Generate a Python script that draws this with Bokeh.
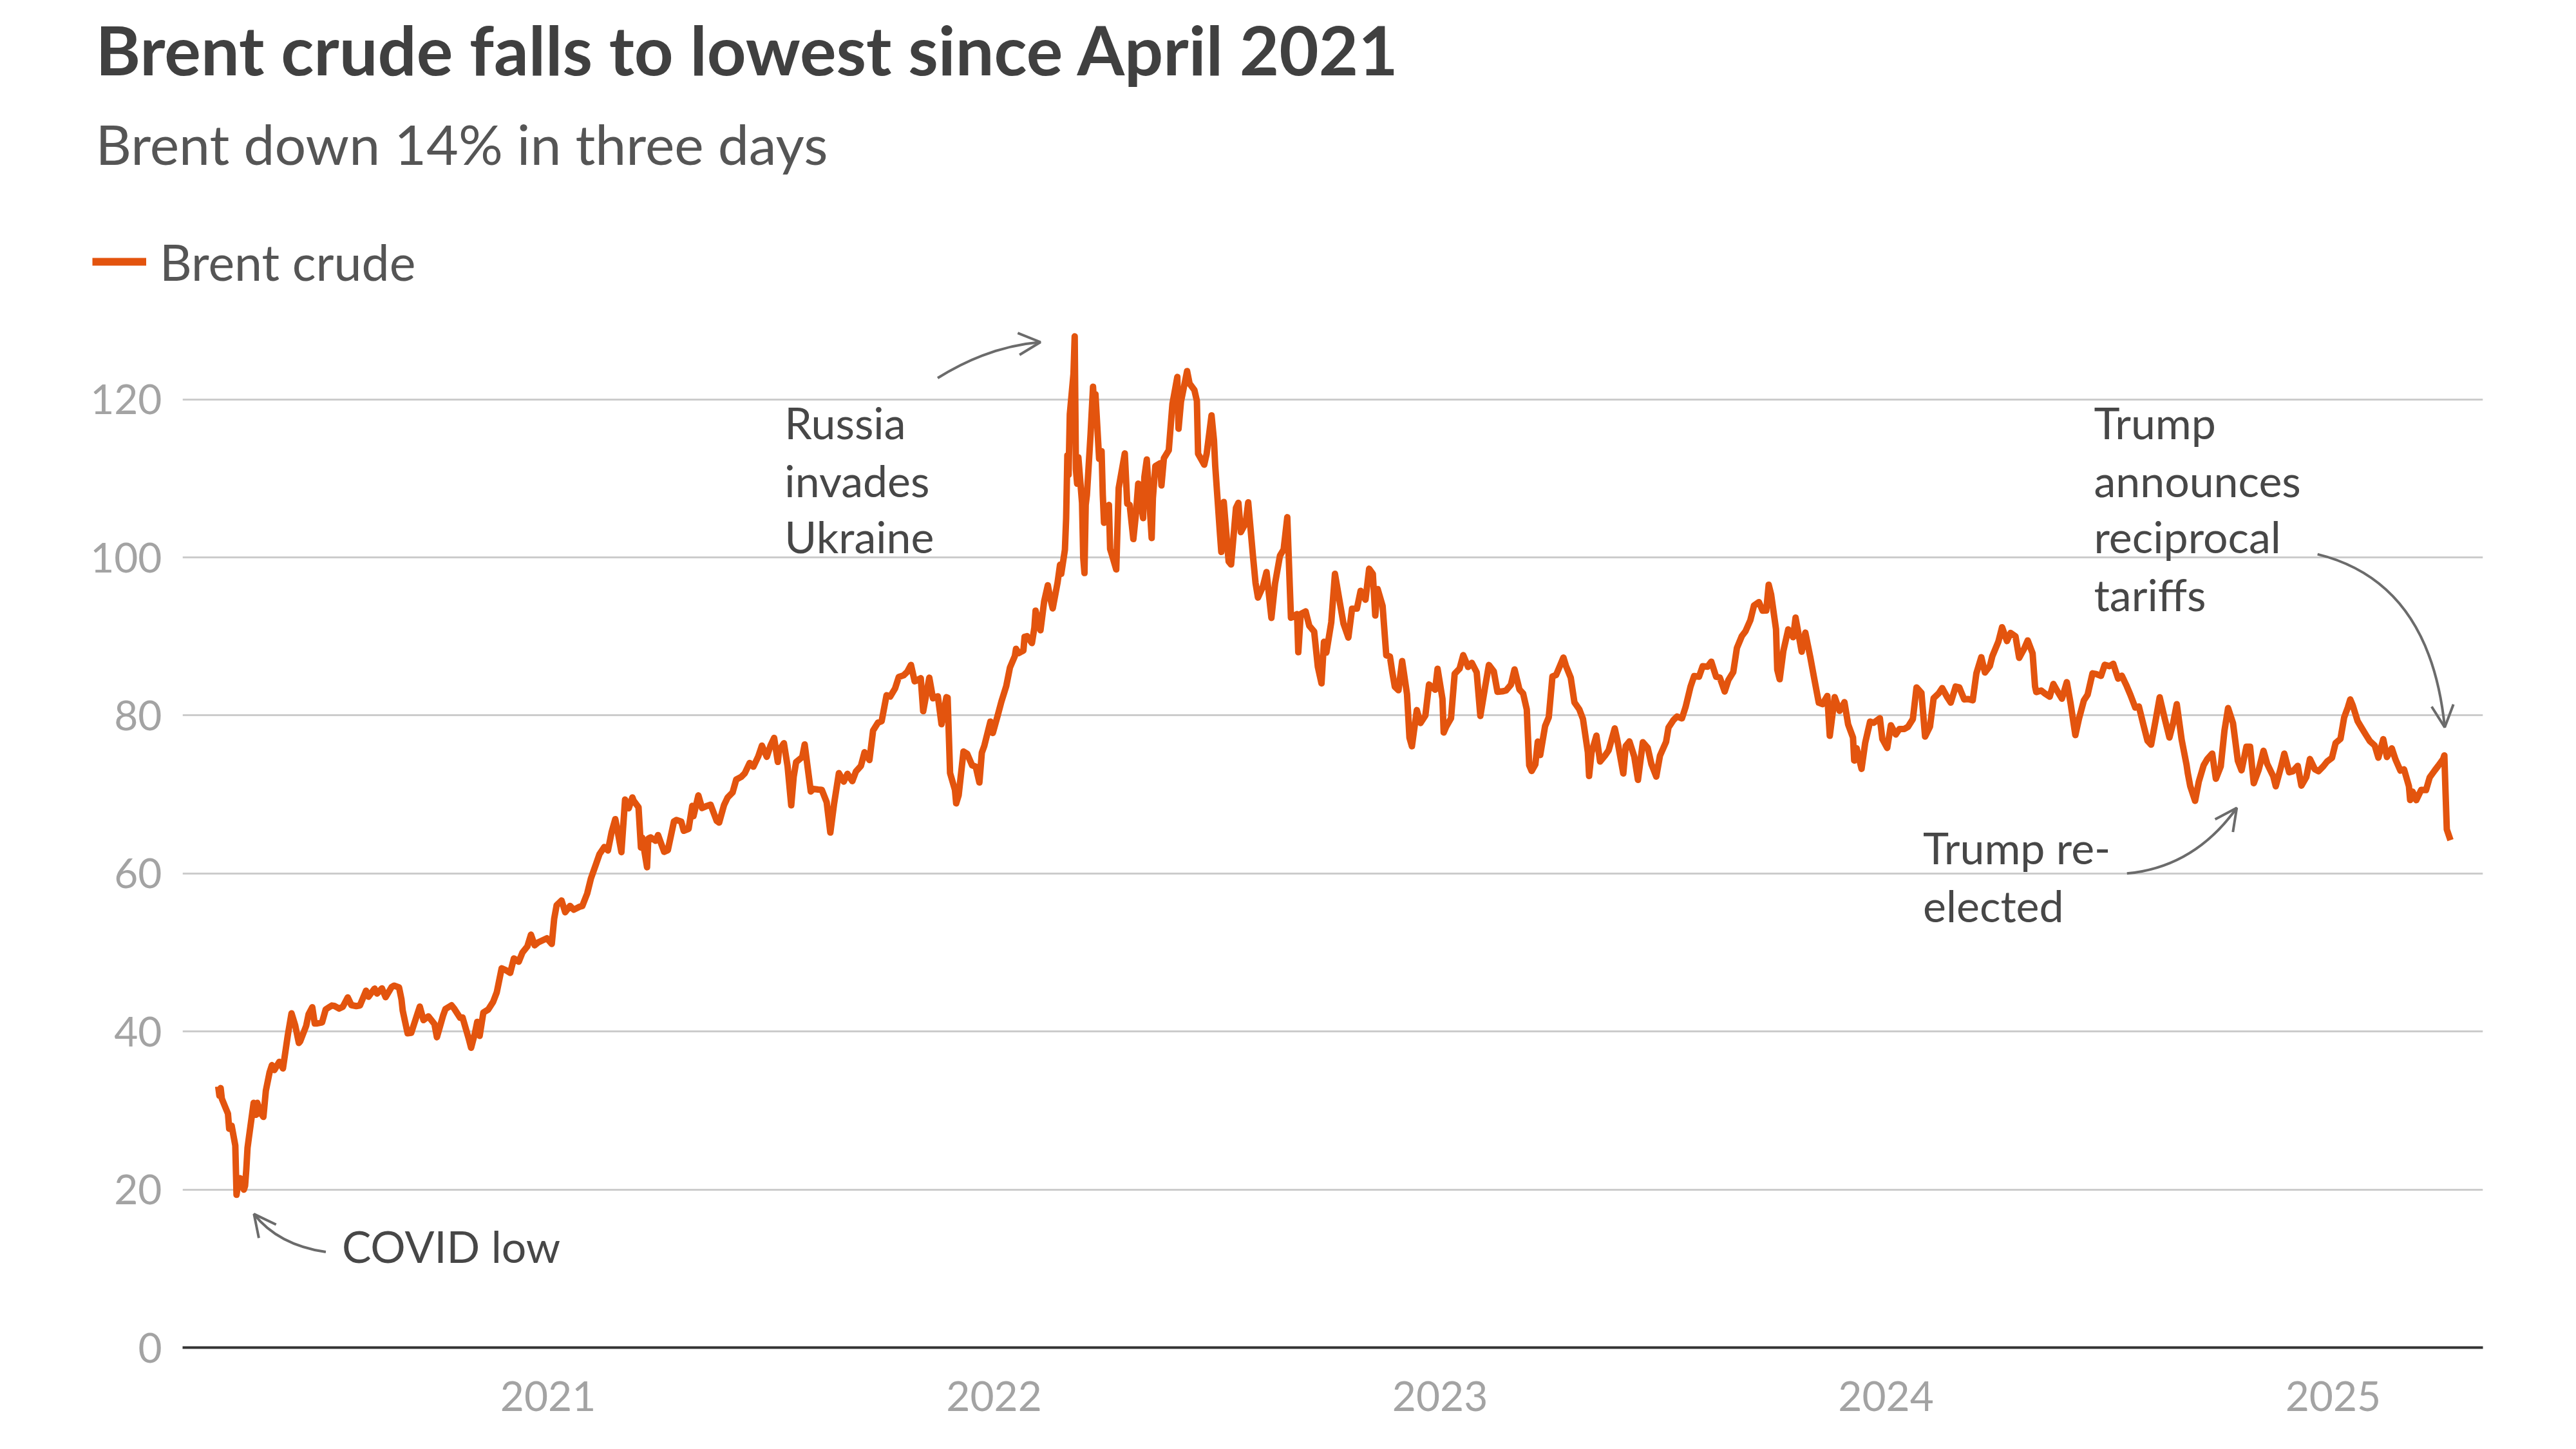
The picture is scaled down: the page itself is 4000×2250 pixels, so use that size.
import pandas as pd
from bokeh.plotting import figure
from bokeh.models import (ColumnDataSource, Range1d, FixedTicker, DatetimeTickFormatter,
                          Label, Legend, LegendItem, Arrow, OpenHead)
from bokeh.core.properties import value
from bokeh.embed import file_html
from bokeh.resources import INLINE

# Brent crude, $/bbl
dates_2020 = ["04-06", "04-07", "04-08", "04-09", "04-14", "04-15", "04-17", "04-20", "04-21", "04-22",
              "04-24", "04-27", "04-28", "04-29", "04-30", "05-01", "05-05", "05-07", "05-08", "05-11",
              "05-13", "05-15", "05-18", "05-20", "05-22", "05-26", "05-29", "06-02", "06-05", "06-08",
              "06-11", "06-12", "06-17", "06-19", "06-22", "06-24", "06-26", "06-30", "07-03", "07-08",
              "07-10", "07-14", "07-17", "07-21", "07-24", "07-28", "07-31", "08-05", "08-07", "08-12",
              "08-14", "08-18", "08-21", "08-26", "08-28", "09-01", "09-03", "09-04", "09-08", "09-11",
              "09-16", "09-18", "09-21", "09-25", "09-30", "10-02", "10-07", "10-09", "10-14", "10-16",
              "10-21", "10-23", "10-28", "10-30", "11-02", "11-04", "11-06", "11-09", "11-13", "11-17",
              "11-20", "11-24", "11-27", "12-01", "12-04", "12-08", "12-11", "12-15", "12-18", "12-21",
              "12-24", "12-31"]
brent_2020 = [33.05, 31.87, 32.84, 31.48, 29.60, 27.69, 28.08, 25.57, 19.33, 20.37,
              21.44, 19.99, 20.46, 22.54, 25.27, 26.44, 30.97, 29.46, 30.97, 29.63,
              29.19, 32.50, 34.81, 35.75, 35.13, 36.17, 35.33, 39.57, 42.30, 40.80,
              38.55, 38.73, 40.71, 42.19, 43.08, 41.01, 41.02, 41.15, 42.80, 43.29,
              43.24, 42.90, 43.14, 44.32, 43.34, 43.22, 43.30, 45.17, 44.40, 45.43,
              44.80, 45.46, 44.35, 45.64, 45.81, 45.58, 44.07, 42.66, 39.78, 39.83,
              42.22, 43.15, 41.44, 41.92, 40.95, 39.27, 41.99, 42.85, 43.32, 42.93,
              41.73, 41.77, 39.12, 37.94, 39.71, 41.23, 39.45, 42.40, 42.78, 43.75,
              44.96, 48.00, 47.80, 47.42, 49.25, 48.84, 50.00, 50.76, 52.26, 50.91,
              51.29, 51.80]

dates_2021 = ["01-04", "01-06", "01-08", "01-12", "01-15", "01-19", "01-22", "01-27", "01-29", "02-02",
              "02-05", "02-09", "02-12", "02-16", "02-19", "02-22", "02-25", "02-26", "03-02", "03-05",
              "03-08", "03-11", "03-12", "03-16", "03-18", "03-19", "03-23", "03-24", "03-26", "03-30",
              "04-01", "04-06", "04-09", "04-14", "04-16", "04-20", "04-22", "04-26", "04-29", "04-30",
              "05-04", "05-07", "05-11", "05-14", "05-19", "05-21", "05-25", "05-28", "06-01", "06-04",
              "06-08", "06-11", "06-15", "06-18", "06-22", "06-25", "06-29", "07-02", "07-05", "07-08",
              "07-09", "07-13", "07-16", "07-19", "07-21", "07-23", "07-28", "07-30", "08-04", "08-06",
              "08-10", "08-13", "08-17", "08-20", "08-23", "08-27", "08-31", "09-03", "09-07", "09-10",
              "09-14", "09-17", "09-21", "09-24", "09-28", "10-01", "10-05", "10-08", "10-12", "10-15",
              "10-19", "10-22", "10-25", "10-28", "10-29", "11-02", "11-04", "11-09", "11-12", "11-16",
              "11-19", "11-23", "11-24", "11-26", "11-30", "12-01", "12-03", "12-07", "12-10", "12-14",
              "12-17", "12-20", "12-22", "12-24", "12-29", "12-31"]
brent_2021 = [51.09, 54.30, 55.99, 56.58, 55.10, 55.90, 55.41, 55.81, 55.88, 57.46,
              59.34, 61.09, 62.43, 63.35, 62.91, 65.24, 66.88, 66.13, 62.70, 69.36,
              68.24, 69.63, 69.22, 68.39, 63.28, 64.53, 60.79, 64.41, 64.57, 64.14,
              64.86, 62.74, 62.95, 66.58, 66.77, 66.57, 65.40, 65.65, 68.56, 67.25,
              69.88, 68.28, 68.55, 68.71, 66.66, 66.44, 68.65, 69.63, 70.25, 71.89,
              72.22, 72.69, 73.99, 73.51, 74.81, 76.18, 74.76, 76.17, 77.16, 74.12,
              75.55, 76.49, 73.59, 68.62, 72.23, 74.10, 74.74, 76.33, 70.38, 70.70,
              70.63, 70.59, 69.03, 65.18, 68.75, 72.70, 71.63, 72.61, 71.69, 72.92,
              73.60, 75.34, 74.36, 78.09, 79.09, 79.28, 82.56, 82.39, 83.42, 84.86,
              85.08, 85.53, 86.40, 84.32, 84.38, 84.72, 80.54, 84.78, 82.17, 82.43,
              78.89, 82.31, 82.25, 72.72, 70.57, 68.87, 69.88, 75.44, 75.15, 73.70,
              73.52, 71.52, 75.29, 76.14, 79.23, 77.78]

dates_2022 = ["01-04", "01-07", "01-11", "01-14", "01-18", "01-19", "01-21", "01-25", "01-26", "01-28",
              "02-01", "02-03", "02-04", "02-08", "02-11", "02-14", "02-16", "02-18", "02-22", "02-24",
              "02-25", "02-28", "03-01", "03-02", "03-03", "03-04", "03-07", "03-08", "03-09", "03-10",
              "03-11", "03-14", "03-15", "03-16", "03-17", "03-18", "03-21", "03-23", "03-24", "03-25",
              "03-28", "03-30", "03-31", "04-01", "04-05", "04-06", "04-07", "04-11", "04-13", "04-18",
              "04-20", "04-22", "04-25", "04-27", "04-29", "05-03", "05-04", "05-06", "05-10", "05-11",
              "05-13", "05-17", "05-18", "05-20", "05-24", "05-27", "05-31", "06-01", "06-03", "06-08",
              "06-10", "06-14", "06-16", "06-17", "06-22", "06-24", "06-28", "06-30", "07-01", "07-05",
              "07-06", "07-08", "07-12", "07-14", "07-18", "07-20", "07-22", "07-26", "07-28", "08-01",
              "08-03", "08-05", "08-09", "08-12", "08-16", "08-19", "08-23", "08-26", "08-29", "08-31",
              "09-01", "09-06", "09-07", "09-09", "09-13", "09-16", "09-20", "09-23", "09-26", "09-28",
              "09-30", "10-04", "10-07", "10-11", "10-14", "10-18", "10-21", "10-25", "10-28", "11-01",
              "11-04", "11-07", "11-09", "11-11", "11-15", "11-18", "11-21", "11-23", "11-25", "11-28",
              "12-01", "12-05", "12-07", "12-09", "12-13", "12-16", "12-20", "12-23", "12-28", "12-30"]
brent_2022 = [80.00, 81.75, 83.72, 86.06, 87.51, 88.44, 87.89, 88.20, 89.96, 90.03,
              89.16, 91.11, 93.27, 90.78, 94.44, 96.48, 94.81, 93.54, 96.84, 99.08,
              97.93, 100.99, 104.97, 112.93, 110.46, 118.11, 123.21, 127.98, 111.14, 109.33,
              112.67, 106.90, 99.91, 98.02, 106.64, 107.93, 115.62, 121.60, 119.03, 120.65,
              112.48, 113.45, 107.91, 104.39, 106.64, 101.07, 100.58, 98.48, 108.78, 113.16,
              106.80, 106.65, 102.32, 105.32, 109.34, 104.97, 110.14, 112.39, 102.46, 107.51,
              111.55, 111.93, 109.11, 112.55, 113.56, 119.43, 122.84, 116.29, 119.72, 123.58,
              122.01, 121.17, 119.81, 113.12, 111.74, 113.12, 117.98, 114.81, 111.63, 102.77,
              100.69, 107.02, 99.49, 99.10, 106.27, 106.92, 103.20, 104.40, 106.97, 100.03,
              96.78, 94.92, 96.31, 98.15, 92.34, 96.72, 100.22, 100.99, 105.09, 96.49,
              92.36, 92.83, 88.00, 92.84, 93.17, 91.35, 90.62, 86.15, 84.06, 89.32,
              87.96, 91.80, 97.92, 94.29, 91.63, 89.86, 93.50, 93.52, 95.77, 94.65,
              98.57, 97.92, 92.65, 95.99, 93.86, 87.62, 87.45, 85.41, 83.63, 83.19,
              86.88, 82.68, 77.17, 76.10, 80.68, 79.04, 79.99, 83.92, 83.26, 85.91]

dates_2023 = ["01-03", "01-04", "01-06", "01-10", "01-13", "01-17", "01-20", "01-24", "01-27", "01-31",
              "02-03", "02-07", "02-10", "02-14", "02-17", "02-21", "02-24", "02-28", "03-03", "03-07",
              "03-10", "03-13", "03-15", "03-17", "03-20", "03-22", "03-24", "03-28", "03-31", "04-03",
              "04-06", "04-12", "04-14", "04-18", "04-21", "04-25", "04-28", "05-02", "05-03", "05-05",
              "05-09", "05-12", "05-16", "05-19", "05-24", "05-26", "05-31", "06-02", "06-05", "06-09",
              "06-12", "06-16", "06-20", "06-23", "06-27", "06-30", "07-05", "07-07", "07-11", "07-14",
              "07-18", "07-21", "07-25", "07-28", "08-01", "08-04", "08-08", "08-11", "08-15", "08-18",
              "08-22", "08-25", "08-29", "09-01", "09-05", "09-08", "09-12", "09-15", "09-19", "09-22",
              "09-25", "09-27", "09-29", "10-03", "10-04", "10-06", "10-09", "10-13", "10-17", "10-19",
              "10-24", "10-27", "10-31", "11-03", "11-07", "11-10", "11-14", "11-16", "11-20", "11-24",
              "11-28", "12-01", "12-05", "12-06", "12-08", "12-12", "12-15", "12-19", "12-22", "12-27",
              "12-29"]
brent_2023 = [82.10, 77.84, 78.57, 79.65, 85.28, 85.92, 87.63, 86.13, 86.66, 85.46,
              79.94, 83.69, 86.39, 85.58, 83.00, 83.05, 83.16, 83.89, 85.83, 83.29,
              82.78, 80.77, 73.69, 72.97, 73.79, 76.69, 74.99, 78.65, 79.77, 84.93,
              85.12, 87.33, 86.31, 84.77, 81.66, 80.77, 79.54, 75.32, 72.33, 75.30,
              77.44, 74.17, 74.91, 75.58, 78.36, 76.95, 72.66, 76.13, 76.71, 74.79,
              71.84, 76.61, 75.90, 73.85, 72.26, 74.90, 76.65, 78.47, 79.40, 79.87,
              79.63, 81.07, 83.64, 84.99, 84.91, 86.24, 86.17, 86.81, 84.89, 84.80,
              83.03, 84.48, 85.49, 88.55, 90.04, 90.65, 92.06, 93.93, 94.34, 93.27,
              93.29, 96.55, 95.31, 90.92, 85.81, 84.58, 88.15, 90.89, 89.90, 92.38,
              88.07, 90.48, 87.41, 84.89, 81.61, 81.43, 82.47, 77.42, 82.32, 80.58,
              81.68, 78.88, 77.20, 74.30, 75.84, 73.24, 76.55, 79.23, 79.07, 79.65,
              77.04]

dates_2024 = ["01-02", "01-05", "01-09", "01-12", "01-16", "01-19", "01-23", "01-26", "01-30", "02-02",
              "02-06", "02-09", "02-13", "02-16", "02-20", "02-23", "02-27", "03-01", "03-05", "03-08",
              "03-12", "03-15", "03-19", "03-22", "03-26", "03-28", "04-02", "04-05", "04-09", "04-12",
              "04-16", "04-19", "04-23", "04-26", "04-30", "05-02", "05-03", "05-07", "05-10", "05-14",
              "05-17", "05-21", "05-24", "05-28", "05-31", "06-04", "06-07", "06-11", "06-14", "06-18",
              "06-21", "06-25", "06-28", "07-02", "07-05", "07-09", "07-12", "07-16", "07-19", "07-23",
              "07-26", "07-30", "08-02", "08-05", "08-09", "08-12", "08-16", "08-20", "08-23", "08-26",
              "08-30", "09-03", "09-04", "09-06", "09-10", "09-13", "09-17", "09-20", "09-24", "09-27",
              "10-01", "10-04", "10-07", "10-11", "10-15", "10-18", "10-22", "10-25", "10-28", "11-01",
              "11-05", "11-08", "11-13", "11-15", "11-19", "11-22", "11-26", "11-29", "12-03", "12-06",
              "12-10", "12-13", "12-17", "12-20", "12-24", "12-27", "12-31"]
brent_2024 = [75.89, 78.76, 77.59, 78.29, 78.29, 78.56, 79.55, 83.55, 82.87, 77.33,
              78.59, 82.19, 82.77, 83.47, 82.34, 81.62, 83.65, 83.55, 82.04, 82.08,
              81.92, 85.34, 87.38, 85.43, 86.25, 87.48, 89.35, 91.17, 89.42, 90.45,
              90.02, 87.29, 88.42, 89.50, 87.86, 83.67, 82.96, 83.16, 82.79, 82.38,
              83.98, 82.88, 82.12, 84.22, 81.62, 77.52, 79.62, 81.92, 82.62, 85.33,
              85.24, 85.01, 86.41, 86.24, 86.54, 84.66, 85.03, 83.73, 82.63, 81.01,
              81.13, 78.63, 76.81, 76.30, 79.66, 82.30, 79.68, 77.20, 79.02, 81.43,
              76.93, 73.75, 72.70, 71.06, 69.19, 71.61, 73.70, 74.49, 75.17, 71.98,
              73.56, 78.05, 80.93, 79.04, 74.25, 73.06, 76.04, 76.05, 71.42, 73.10,
              75.53, 73.87, 72.28, 71.04, 73.31, 75.17, 72.81, 72.94, 73.62, 71.12,
              72.19, 74.49, 73.19, 72.94, 73.58, 74.17, 74.64]

dates_2025 = ["01-03", "01-07", "01-10", "01-13", "01-15", "01-17", "01-21", "01-24", "01-28", "01-31",
              "02-04", "02-07", "02-11", "02-14", "02-18", "02-21", "02-25", "02-28", "03-04", "03-05",
              "03-07", "03-10", "03-14", "03-18", "03-21", "03-25", "03-28", "04-01", "04-02", "04-03",
              "04-04", "04-07"]
brent_2025 = [76.51, 77.05, 79.76, 81.01, 82.03, 81.29, 79.29, 78.50, 77.49, 76.76,
              76.20, 74.66, 77.00, 74.74, 75.84, 74.43, 73.02, 73.18, 71.04, 69.30,
              70.36, 69.28, 70.58, 70.56, 72.16, 73.02, 73.63, 74.49, 74.95, 70.14,
              65.58, 64.21]

years = [2021, 2022, 2023, 2024, 2025]
y_ticks = [0, 20, 40, 60, 80, 100, 120]

# annotations: text lines (left edge as fractional year, vertical centre in $)
note_text = ["COVID low", "Russia", "invades", "Ukraine", "Trump re-", "elected",
             "Trump", "announces", "reciprocal", "tariffs"]
note_year = [2020.540, 2021.530, 2021.530, 2021.530, 2024.083, 2024.083,
             2024.466, 2024.466, 2024.466, 2024.466]
note_val = [12.9, 117.1, 109.8, 102.7, 63.3, 56.0, 117.1, 109.8, 102.7, 95.4]

# curved pointers: (start, control, end) as (fractional year, $)
pointers = [
    ((2020.504, 12.1), (2020.397, 13.0), (2020.343, 16.9)),
    ((2021.873, 122.7), (2021.986, 126.7), (2022.104, 127.25)),
    ((2024.540, 60.0), (2024.691, 60.8), (2024.786, 68.3)),
    ((2024.967, 100.4), (2025.217, 96.9), (2025.250, 78.5)),
]

ORANGE = "#e3540e"
GREY_TXT = "#474747"
ARROW = "#6b6b6b"
FONT = "Lato"
W, H_HEAD, H_MAIN = 4000, 470, 1780


def yr(f):
    base = pd.Timestamp(f"{int(f)}-01-01")
    return (base + pd.Timedelta(days=(f - int(f)) * 365.25)).value / 1e6


dates, prices = [], []
for y, d, v in [(2020, dates_2020, brent_2020), (2021, dates_2021, brent_2021),
                (2022, dates_2022, brent_2022), (2023, dates_2023, brent_2023),
                (2024, dates_2024, brent_2024), (2025, dates_2025, brent_2025)]:
    dates += [pd.Timestamp(f"{y}-{s}") for s in d]
    prices += v
source = ColumnDataSource(dict(date=dates, brent=prices))

# header: title, subtitle and legend (pixel space, y downwards)
head = figure(width=W, height=H_HEAD, output_backend="svg", toolbar_location=None,
              title_location=None, x_range=Range1d(0, W), y_range=Range1d(H_HEAD, 0),
              x_axis_location=None, y_axis_location=None, min_border=0)
head.outline_line_color = None
head.grid.grid_line_color = None
head.add_layout(Label(x=148, y=75, text="Brent crude falls to lowest since April 2021",
                      text_font=FONT, text_font_size="106px", text_font_style="bold",
                      text_color="#404040", text_baseline="alphabetic"))
head.add_layout(Label(x=148, y=222, text="Brent down 14% in three days",
                      text_font=FONT, text_font_size="86px", text_color="#555555",
                      text_baseline="alphabetic"))
# legend key renderer: kept off-canvas, only its style is used by the legend
key = head.line(x=[-200, -100], y=[-200, -200], line_color=ORANGE, line_width=12)
head.add_layout(Legend(items=[LegendItem(label="Brent crude", renderers=[key])],
                       location=(143, 18), glyph_width=84, glyph_height=20, label_standoff=21,
                       label_text_font=FONT, label_text_font_size="77px",
                       label_text_color="#555555", padding=0, margin=0, spacing=0,
                       border_line_alpha=0, background_fill_alpha=0))

p = figure(width=W, height=H_MAIN, x_axis_type="datetime", output_backend="svg",
           toolbar_location=None, min_border_left=283, min_border_right=145,
           min_border_top=27, min_border_bottom=158,
           x_range=Range1d(yr(2020.183), yr(2025.3356)), y_range=Range1d(0, 130))
p.outline_line_color = None
p.xgrid.grid_line_color = None
p.ygrid.grid_line_color = "#cccccc"
p.ygrid.grid_line_width = 3
p.ygrid.ticker = FixedTicker(ticks=y_ticks)

p.yaxis.ticker = FixedTicker(ticks=y_ticks)
p.yaxis.axis_line_color = None
p.yaxis.major_tick_line_color = None
p.yaxis.minor_tick_line_color = None
p.yaxis.major_label_text_font = FONT
p.yaxis.major_label_text_font_size = "64px"
p.yaxis.major_label_text_color = "#a3a3a3"
p.yaxis.major_label_standoff = 26

p.xaxis.ticker = FixedTicker(ticks=[yr(y) for y in years])
p.xaxis.formatter = DatetimeTickFormatter(years="%Y", months="%Y", days="%Y")
p.xaxis.axis_line_color = "#333333"
p.xaxis.axis_line_width = 4
p.xaxis.major_tick_line_color = None
p.xaxis.minor_tick_line_color = None
p.xaxis.major_label_text_font = FONT
p.xaxis.major_label_text_font_size = "64px"
p.xaxis.major_label_text_color = "#a3a3a3"
p.xaxis.major_label_standoff = 46

p.line(x="date", y="brent", source=source, line_color=ORANGE, line_width=10,
       line_join="round")

notes = ColumnDataSource(dict(x=[yr(f) for f in note_year], y=note_val, text=note_text))
p.text(x="x", y="y", text="text", source=notes, text_font=value(FONT),
       text_font_size=value("68px"), text_color=GREY_TXT, text_baseline="middle",
       text_align="left")

for (s, c, e) in pointers:
    p.quadratic(x0=[yr(s[0])], y0=[s[1]], cx=[yr(c[0])], cy=[c[1]], x1=[yr(e[0])], y1=[e[1]],
                line_color=ARROW, line_width=4)
    p.add_layout(Arrow(x_start=yr(c[0]), y_start=c[1], x_end=yr(e[0]), y_end=e[1],
                       line_alpha=0,
                       end=OpenHead(size=34, line_color=ARROW, line_width=4)))

open("out.html", "w").write(file_html([head, p], INLINE))
